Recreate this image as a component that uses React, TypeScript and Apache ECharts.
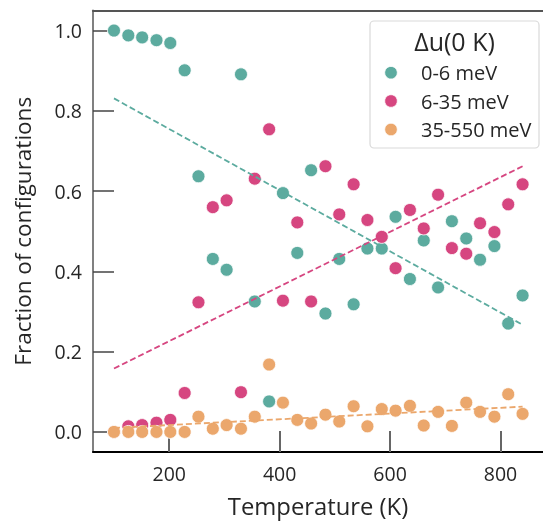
import React, { useEffect, useRef } from "react";
import * as echarts from "echarts";

const temps = [100, 126, 151, 177, 202, 228, 253, 279, 304, 330, 355, 381, 406, 432, 457, 483, 508, 534, 559, 585, 610, 636, 661, 687, 712, 738, 763, 789, 814, 840];
const lowBand = [1.0, 0.988, 0.983, 0.976, 0.969, 0.901, 0.637, 0.431, 0.404, 0.891, 0.325, 0.076, 0.595, 0.446, 0.652, 0.295, 0.431, 0.318, 0.457, 0.457, 0.536, 0.381, 0.477, 0.36, 0.525, 0.482, 0.429, 0.463, 0.27, 0.34];
const midBand = [0.0, 0.014, 0.017, 0.023, 0.03, 0.097, 0.323, 0.56, 0.577, 0.099, 0.631, 0.754, 0.327, 0.522, 0.325, 0.662, 0.542, 0.617, 0.528, 0.486, 0.408, 0.553, 0.507, 0.591, 0.458, 0.444, 0.52, 0.498, 0.567, 0.617];
const highBand = [0.0, 0.0, 0.0, 0.0, 0.0, 0.0, 0.038, 0.008, 0.017, 0.008, 0.038, 0.168, 0.073, 0.03, 0.021, 0.043, 0.026, 0.064, 0.014, 0.057, 0.053, 0.065, 0.016, 0.05, 0.015, 0.073, 0.05, 0.038, 0.094, 0.045];

const trendT = [100, 840];
const lowTrend = [0.831, 0.267];
const midTrend = [0.158, 0.662];
const highTrend = [0.01, 0.063];

const names = ["0-6 meV", "6-35 meV", "35-550 meV"];
const colors = ["#5cab9f", "#d64680", "#eba76c"];
const xTicks = [200, 400, 600, 800];
const yTicks = [0, 0.2, 0.4, 0.6, 0.8, 1.0];

const FONT = "Open Sans";

export default function App() {
  const ref = useRef<HTMLDivElement>(null);
  useEffect(() => {
    const chart = echarts.init(ref.current!, null, { renderer: "svg" });
    const bands = [lowBand, midBand, highBand];
    const trends = [lowTrend, midTrend, highTrend];
    const scatterSeries = bands.map((b, k) => ({
      type: "scatter",
      name: names[k],
      data: temps.map((t, i) => [t, b[i]]),
      symbolSize: 13,
      itemStyle: { color: colors[k], borderColor: "#ffffff", borderWidth: 0.8, opacity: 1 },
      z: 2 + k * 0.1,
    }));
    const lineSeries = trends.map((tr, k) => ({
      type: "line",
      name: names[k] + " fit",
      data: trendT.map((t, i) => [t, tr[i]]),
      symbol: "none",
      showSymbol: false,
      lineStyle: { color: colors[k], width: 1.8, type: [6, 3] },
      z: 4,
    }));
    const legendY = [72.7, 101, 129.5];
    chart.setOption({
      animation: false,
      textStyle: { fontFamily: FONT },
      grid: { left: 93, top: 10.5, width: 457, bottom: 69 },
      xAxis: [
        {
          type: "value",
          min: 62,
          max: 877,
          position: "bottom",
          axisLine: { show: true, onZero: false, lineStyle: { color: "#000", width: 2 } },
          axisTick: { show: true, inside: true, length: 21, customValues: xTicks, lineStyle: { color: "#666", width: 2 } },
          axisLabel: { customValues: xTicks, margin: 11, fontSize: 19.5, color: "#262626", fontFamily: FONT },
          splitLine: { show: false },
          name: "Temperature (K)",
          nameLocation: "middle",
          nameGap: 42,
          nameTextStyle: { fontSize: 23.8, color: "#262626", fontFamily: FONT },
        },
        {
          type: "value",
          min: 62,
          max: 877,
          position: "top",
          axisLine: { show: true, onZero: false, lineStyle: { color: "#555", width: 2 } },
          axisTick: { show: false },
          axisLabel: { show: false },
          splitLine: { show: false },
        },
      ],
      yAxis: {
        type: "value",
        min: -0.05,
        max: 1.05,
        axisLine: { show: true, onZero: false, lineStyle: { color: "#808080", width: 2 } },
        axisTick: { show: true, inside: true, length: 21, customValues: yTicks, lineStyle: { color: "#444", width: 1.5 } },
        axisLabel: {
          customValues: yTicks,
          margin: 11,
          fontSize: 19.5,
          color: "#262626",
          fontFamily: FONT,
          formatter: (v: number) => v.toFixed(1),
        },
        splitLine: { show: false },
        name: "Fraction of configurations",
        nameLocation: "middle",
        nameRotate: 90,
        nameGap: 59,
        nameTextStyle: { fontSize: 22.5, color: "#262626", fontFamily: FONT },
      },
      series: [...scatterSeries, ...lineSeries],
      graphic: [
        {
          type: "rect",
          shape: { x: 370, y: 21, width: 169, height: 127, r: 4 },
          style: { fill: "#ffffff", stroke: "#d9d9d9", lineWidth: 1.2 },
          z: 10,
        },
        {
          type: "text",
          x: 454.5,
          y: 41,
          style: { text: "Δu(0 K)", fontSize: 25, fontFamily: FONT, fill: "#262626", align: "center", verticalAlign: "middle" },
          z: 11,
        },
        ...names.flatMap((n, k) => [
          {
            type: "circle",
            shape: { cx: 391, cy: legendY[k], r: 6.3 },
            style: { fill: colors[k], stroke: "#fff", lineWidth: 0.8 },
            z: 11,
          },
          {
            type: "text",
            x: 421,
            y: legendY[k],
            style: { text: n, fontSize: 20, fontFamily: FONT, fill: "#262626", align: "left", verticalAlign: "middle" },
            z: 11,
          },
        ]),
      ],
    });
    return () => chart.dispose();
  }, []);
  return <div ref={ref} style={{ position: "fixed", left: 0, top: 0, width: 543, height: 523 }} />;
}
